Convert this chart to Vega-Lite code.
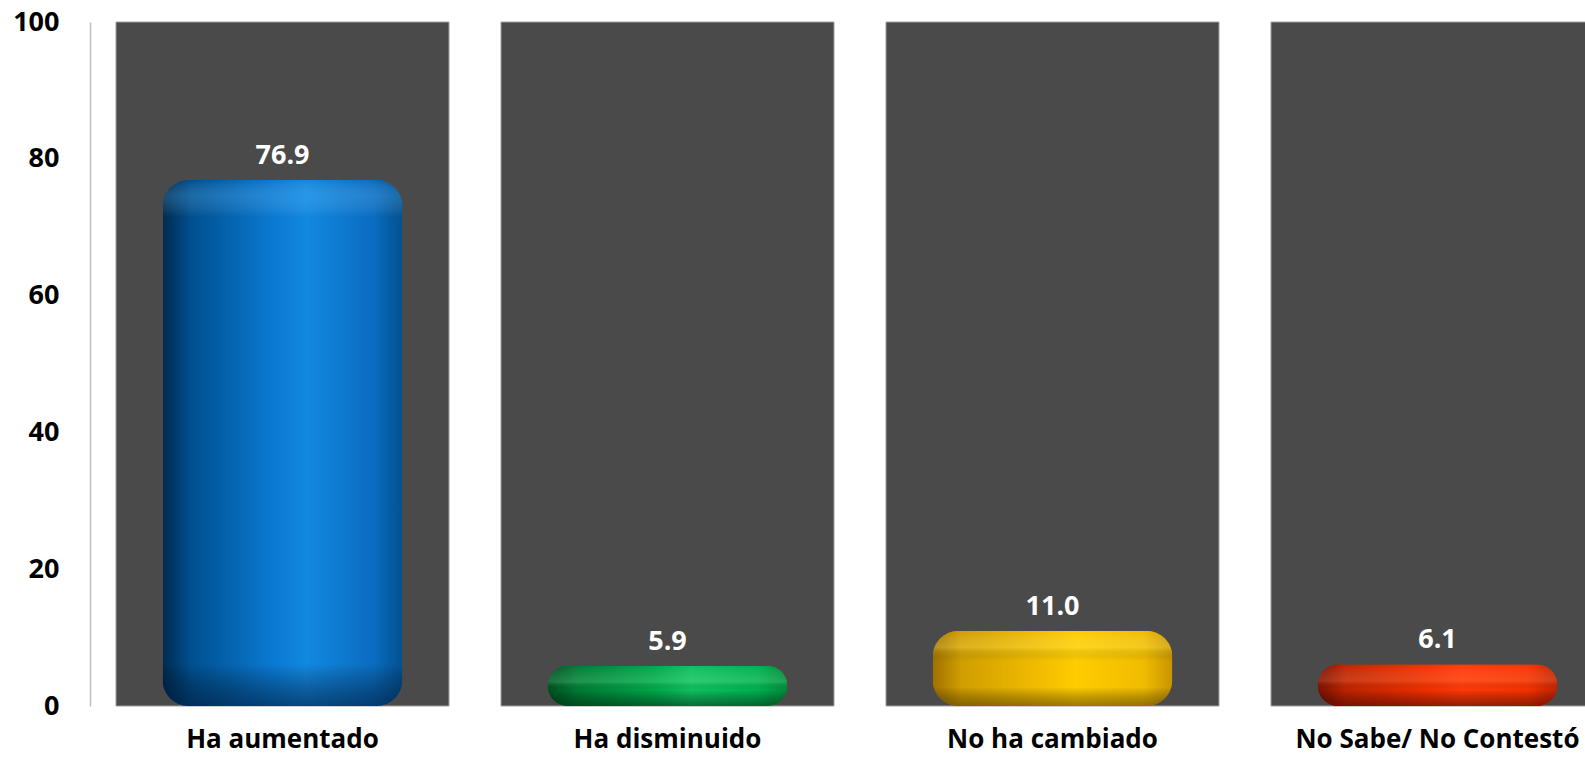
{
  "$schema": "https://vega.github.io/schema/vega-lite/v6.json",
  "autosize": {"type": "none"},
  "padding": {"left": 90, "top": 22, "right": 0, "bottom": 56},
  "width": 1495,
  "height": 684,
  "background": "white",
  "config": {"view": {"stroke": null}, "font": "Open Sans"},
  "data": {"values": [
    {"cat": "Ha aumentado", "value": 76.9, "full": 100},
    {"cat": "Ha disminuido", "value": 5.9, "full": 100},
    {"cat": "No ha cambiado", "value": 11.0, "full": 100},
    {"cat": "No Sabe/ No Contestó", "value": 6.1, "full": 100}
  ]},
  "encoding": {
    "x": {
      "field": "cat", "type": "nominal", "sort": null,
      "scale": {"range": [0, 1540], "paddingInner": 0.135, "paddingOuter": 0.0675},
      "axis": {"title": null, "domain": false, "ticks": false, "labelAngle": 0, "labelPadding": 20, "labelLimit": 0,
               "labelFontSize": 26, "labelFontWeight": "bold", "labelColor": "#000000", "labelFont": "Open Sans"}
    }
  },
  "layer": [
    {
      "mark": {"type": "bar", "color": "#4a4a4a", "stroke": "#a0a0a0", "strokeWidth": 1},
      "encoding": {
        "y": {"field": "full", "type": "quantitative",
              "scale": {"domain": [0, 100], "nice": false},
              "axis": {"title": null, "values": [0, 20, 40, 60, 80, 100], "grid": false, "ticks": false,
                       "domainColor": "#bfbfbf", "domainWidth": 1.5, "labelPadding": 31,
                       "labelFontSize": 27, "labelFontWeight": "bold", "labelColor": "#000000", "labelFont": "Open Sans"}}
      }
    },
    {
      "transform": [{"filter": "datum.cat === 'Ha aumentado'"}],
      "encoding": {"y": {"field": "value", "type": "quantitative"}},
      "layer": [
        {"mark": {"type": "bar", "width": {"band": 0.72}, "cornerRadius": 26,
                  "fill": {"gradient": "linear", "x1": 0, "x2": 1, "y1": 0, "y2": 0,
                           "stops": [{"offset": 0, "color": "#002a50"}, {"offset": 0.12, "color": "#00508f"},
                                     {"offset": 0.45, "color": "#0a78d0"}, {"offset": 0.6, "color": "#1288e0"},
                                     {"offset": 0.88, "color": "#0a6cc0"}, {"offset": 1, "color": "#03508f"}]}}},
        {"mark": {"type": "bar", "width": {"band": 0.72}, "cornerRadius": 26,
                  "fill": {"gradient": "linear", "x1": 0, "x2": 0, "y1": 0, "y2": 1,
                           "stops": [{"offset": 0, "color": "rgba(255,255,255,0.0)"}, {"offset": 0.03, "color": "rgba(120,200,255,0.22)"},
                                     {"offset": 0.07, "color": "rgba(255,255,255,0.0)"}, {"offset": 0.92, "color": "rgba(0,0,0,0.0)"},
                                     {"offset": 1, "color": "rgba(0,20,50,0.55)"}]}}}
      ]
    },
    {
      "transform": [{"filter": "datum.cat === 'Ha disminuido'"}],
      "encoding": {"y": {"field": "value", "type": "quantitative"}},
      "layer": [
        {"mark": {"type": "bar", "width": {"band": 0.72}, "cornerRadius": 26,
                  "fill": {"gradient": "linear", "x1": 0, "x2": 1, "y1": 0, "y2": 0,
                           "stops": [{"offset": 0, "color": "#005020"}, {"offset": 0.12, "color": "#007a35"},
                                     {"offset": 0.45, "color": "#00a84a"}, {"offset": 0.6, "color": "#10c060"},
                                     {"offset": 0.88, "color": "#00b050"}, {"offset": 1, "color": "#008a3a"}]}}},
        {"mark": {"type": "bar", "width": {"band": 0.72}, "cornerRadius": 26,
                  "fill": {"gradient": "linear", "x1": 0, "x2": 0, "y1": 0, "y2": 1,
                           "stops": [{"offset": 0, "color": "rgba(255,255,255,0.0)"}, {"offset": 0.4, "color": "rgba(150,255,180,0.2)"},
                                     {"offset": 0.6, "color": "rgba(0,0,0,0.0)"}, {"offset": 1, "color": "rgba(0,30,10,0.5)"}]}}}
      ]
    },
    {
      "transform": [{"filter": "datum.cat === 'No ha cambiado'"}],
      "encoding": {"y": {"field": "value", "type": "quantitative"}},
      "layer": [
        {"mark": {"type": "bar", "width": {"band": 0.72}, "cornerRadius": 26,
                  "fill": {"gradient": "linear", "x1": 0, "x2": 1, "y1": 0, "y2": 0,
                           "stops": [{"offset": 0, "color": "#a07000"}, {"offset": 0.12, "color": "#d09e00"},
                                     {"offset": 0.45, "color": "#f2bd00"}, {"offset": 0.6, "color": "#ffcc00"},
                                     {"offset": 0.88, "color": "#f0bc00"}, {"offset": 1, "color": "#c89400"}]}}},
        {"mark": {"type": "bar", "width": {"band": 0.72}, "cornerRadius": 26,
                  "fill": {"gradient": "linear", "x1": 0, "x2": 0, "y1": 0, "y2": 1,
                           "stops": [{"offset": 0, "color": "rgba(255,255,255,0.0)"}, {"offset": 0.22, "color": "rgba(255,240,120,0.25)"},
                                     {"offset": 0.4, "color": "rgba(0,0,0,0.0)"}, {"offset": 0.75, "color": "rgba(0,0,0,0.0)"},
                                     {"offset": 1, "color": "rgba(60,40,0,0.5)"}]}}}
      ]
    },
    {
      "transform": [{"filter": "datum.cat === 'No Sabe/ No Contestó'"}],
      "encoding": {"y": {"field": "value", "type": "quantitative"}},
      "layer": [
        {"mark": {"type": "bar", "width": {"band": 0.72}, "cornerRadius": 26,
                  "fill": {"gradient": "linear", "x1": 0, "x2": 1, "y1": 0, "y2": 0,
                           "stops": [{"offset": 0, "color": "#7a1200"}, {"offset": 0.12, "color": "#c02400"},
                                     {"offset": 0.45, "color": "#f03000"}, {"offset": 0.6, "color": "#ff3a08"},
                                     {"offset": 0.88, "color": "#f53200"}, {"offset": 1, "color": "#c02400"}]}}},
        {"mark": {"type": "bar", "width": {"band": 0.72}, "cornerRadius": 26,
                  "fill": {"gradient": "linear", "x1": 0, "x2": 0, "y1": 0, "y2": 1,
                           "stops": [{"offset": 0, "color": "rgba(255,255,255,0.0)"}, {"offset": 0.4, "color": "rgba(255,160,120,0.2)"},
                                     {"offset": 0.6, "color": "rgba(0,0,0,0.0)"}, {"offset": 1, "color": "rgba(50,0,0,0.5)"}]}}}
      ]
    },
    {
      "mark": {"type": "text", "color": "white", "fontSize": 27, "fontWeight": "bold", "font": "Open Sans",
               "baseline": "alphabetic", "dy": -16},
      "encoding": {
        "y": {"field": "value", "type": "quantitative"},
        "text": {"field": "value", "type": "quantitative", "format": ".1f"}
      }
    }
  ]
}
